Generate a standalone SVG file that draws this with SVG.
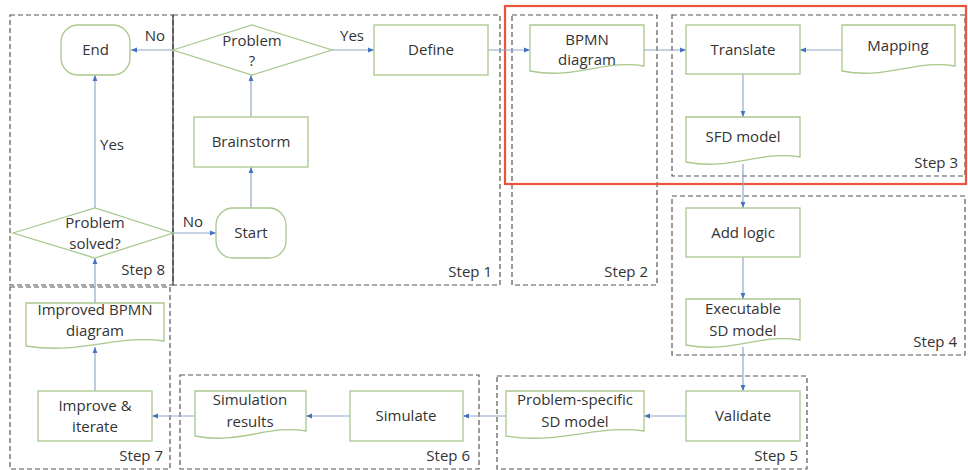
<svg xmlns="http://www.w3.org/2000/svg" width="968" height="470" viewBox="0 0 968 470">
<defs>
<style>
.step{fill:none;stroke:#555;stroke-width:1.2;stroke-dasharray:5,3}
.node{fill:#fff;stroke:#a8c88c;stroke-width:1.3}
.t{font-family:"Open Sans","Liberation Sans",sans-serif;font-size:15px;fill:#333;text-anchor:middle}
.s{font-family:"Open Sans","Liberation Sans",sans-serif;font-size:15px;fill:#333;text-anchor:end}
.c{fill:none;stroke:#8fa8c8;stroke-width:1.2;marker-end:url(#ah)}
</style>
<marker id="ah" viewBox="0 0 10 10" refX="10" refY="5" markerWidth="6" markerHeight="6" orient="auto" markerUnits="userSpaceOnUse">
<path d="M0,1 L10,5 L0,9 Z" fill="#4472c4"/>
</marker>
</defs>
<rect width="968" height="470" fill="#fff"/>

<g id="steps">
<rect class="step" x="10" y="15" width="163" height="270"/>
<rect class="step" x="173" y="15" width="327" height="270"/>
<line x1="173" y1="15" x2="173" y2="285" stroke="#555" stroke-width="1.5"/>
<rect class="step" x="512" y="15" width="145" height="270"/>
<rect class="step" x="672" y="15" width="293" height="161"/>
<rect class="step" x="672" y="196" width="293" height="159"/>
<rect class="step" x="497" y="376" width="310" height="93"/>
<rect class="step" x="180" y="375" width="299" height="94"/>
<rect class="step" x="10" y="287" width="160" height="182"/>
<text class="s" x="165" y="275">Step 8</text>
<text class="s" x="492" y="277">Step 1</text>
<text class="s" x="648" y="277">Step 2</text>
<text class="s" x="958" y="168">Step 3</text>
<text class="s" x="957" y="347">Step 4</text>
<text class="s" x="798" y="461">Step 5</text>
<text class="s" x="470" y="461">Step 6</text>
<text class="s" x="163" y="461">Step 7</text>
</g>

<rect id="highlight" x="505" y="6" width="461" height="178" fill="none" stroke="#e8553a" stroke-width="2.2"/>

<g id="connectors">
<line class="c" x1="173" y1="50" x2="131" y2="50"/>
<line class="c" x1="332" y1="50" x2="374" y2="50"/>
<line class="c" x1="488" y1="50" x2="530" y2="50"/>
<line class="c" x1="644" y1="50" x2="686" y2="50"/>
<line class="c" x1="842" y1="50" x2="800" y2="50"/>
<line class="c" x1="743" y1="74" x2="743" y2="117"/>
<line class="c" x1="743" y1="164" x2="743" y2="208"/>
<line class="c" x1="743" y1="257" x2="743" y2="299"/>
<line class="c" x1="743" y1="347" x2="743" y2="391"/>
<line class="c" x1="686" y1="416" x2="644" y2="416"/>
<line class="c" x1="506" y1="416" x2="463" y2="416"/>
<line class="c" x1="350" y1="416" x2="306" y2="416"/>
<line class="c" x1="195" y1="416" x2="152" y2="416"/>
<line class="c" x1="95" y1="391" x2="95" y2="347"/>
<line class="c" x1="95" y1="303" x2="95" y2="258"/>
<line class="c" x1="95" y1="208" x2="95" y2="75"/>
<line class="c" x1="173" y1="233" x2="216" y2="233"/>
<line class="c" x1="251" y1="208" x2="251" y2="167"/>
<line class="c" x1="251" y1="117" x2="251" y2="75"/>
<text class="t" x="155" y="41">No</text>
<text class="t" x="352" y="41">Yes</text>
<text class="t" x="193" y="227">No</text>
<text class="t" x="112" y="150">Yes</text>
</g>

<g id="end">
<rect class="node" x="61" y="25" width="69" height="50" rx="17"/>
<text class="t" x="95.5" y="55">End</text>
</g>
<g id="problem">
<path class="node" d="M173,50 L252,25 L332,50 L252,75 Z"/>
<text class="t" x="252" y="46">Problem</text>
<text class="t" x="252" y="66">?</text>
</g>
<g id="define">
<rect class="node" x="374" y="25" width="114" height="50"/>
<text class="t" x="431" y="55">Define</text>
</g>
<g id="brainstorm">
<rect class="node" x="194" y="117" width="114" height="50"/>
<text class="t" x="251" y="147">Brainstorm</text>
</g>
<g id="start">
<rect class="node" x="216" y="208" width="70" height="50" rx="17"/>
<text class="t" x="251" y="238">Start</text>
</g>
<g id="solved">
<path class="node" d="M13,233 L95,208 L173,233 L95,258 Z"/>
<text class="t" x="95" y="228">Problem</text>
<text class="t" x="95" y="249">solved?</text>
</g>
<g id="bpmn">
<path class="node" d="M530,25 H644 V66 C606,59 576,80 530,71 Z"/>
<text class="t" x="587" y="45">BPMN</text>
<text class="t" x="587" y="65">diagram</text>
</g>
<g id="translate">
<rect class="node" x="686" y="25" width="114" height="49"/>
<text class="t" x="743" y="55">Translate</text>
</g>
<g id="mapping">
<path class="node" d="M842,25 H955 V66 C917,59 887,80 842,71 Z"/>
<text class="t" x="898" y="51">Mapping</text>
</g>
<g id="sfd">
<path class="node" d="M686,117 H800 V157 C762,150 732,171 686,162 Z"/>
<text class="t" x="743" y="142">SFD model</text>
</g>
<g id="addlogic">
<rect class="node" x="686" y="208" width="114" height="49"/>
<text class="t" x="743" y="238">Add logic</text>
</g>
<g id="executable">
<path class="node" d="M686,299 H800 V340 C762,333 732,354 686,345 Z"/>
<text class="t" x="743" y="314">Executable</text>
<text class="t" x="743" y="336">SD model</text>
</g>
<g id="validate">
<rect class="node" x="686" y="391" width="114" height="50"/>
<text class="t" x="743" y="421">Validate</text>
</g>
<g id="problemspecific">
<path class="node" d="M506,391 H644 V431 C598,424 562,445 506,436 Z"/>
<text class="t" x="575" y="405">Problem-specific</text>
<text class="t" x="575" y="427">SD model</text>
</g>
<g id="simulate">
<rect class="node" x="350" y="391" width="113" height="50"/>
<text class="t" x="406" y="421">Simulate</text>
</g>
<g id="simresults">
<path class="node" d="M195,391 H306 V431 C269,424 240,445 195,436 Z"/>
<text class="t" x="250" y="405">Simulation</text>
<text class="t" x="250" y="427">results</text>
</g>
<g id="improve">
<rect class="node" x="38" y="391" width="114" height="50"/>
<text class="t" x="95" y="411">Improve &amp;</text>
<text class="t" x="95" y="432">iterate</text>
</g>
<g id="improved">
<path class="node" d="M26,303 H164 V341 C118,334 82,355 26,346 Z"/>
<text class="t" x="95" y="315">Improved BPMN</text>
<text class="t" x="95" y="336">diagram</text>
</g>
</svg>
